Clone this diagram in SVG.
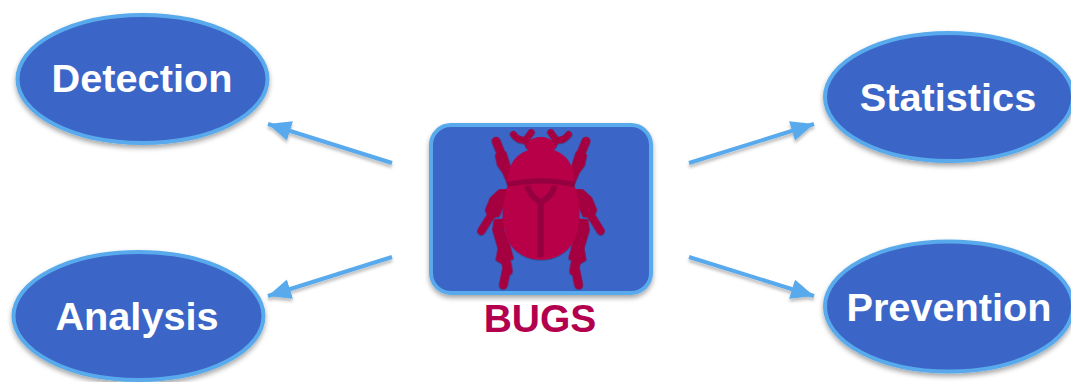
<svg xmlns="http://www.w3.org/2000/svg" width="1071" height="382" viewBox="0 0 1071 382">
<style>
.oval{fill:#3b66c7;stroke:#58aaec;stroke-width:4;filter:url(#sh)}
.lab{font-family:"Liberation Sans",Arial,sans-serif;font-weight:700;font-size:39.7px;fill:#fff;text-anchor:middle}
.conn{stroke:#58aaec;stroke-width:4;fill:none;marker-end:url(#arr);filter:url(#sh2)}
.leg{fill:#a5003f;stroke:#a5003f;stroke-width:6;stroke-linejoin:round}
.limb{fill:none;stroke:#a5003f;stroke-linecap:round;stroke-linejoin:round}
</style>
<defs>
<filter id="sh" x="-10%" y="-10%" width="120%" height="125%"><feDropShadow dx="0" dy="3" stdDeviation="2.5" flood-color="#000" flood-opacity=".35"/></filter>
<filter id="sh2" x="-10%" y="-30%" width="120%" height="170%"><feDropShadow dx="0" dy="3" stdDeviation="1.5" flood-color="#000" flood-opacity=".25"/></filter>
<marker id="arr" markerUnits="userSpaceOnUse" markerWidth="26" markerHeight="22" refX="23" refY="10" orient="auto"><path d="M0 0L23 10L0 20Z" fill="#58aaec"/></marker>
<g id="side">
<path class="limb" stroke-width="26" d="M228 78L246 122"/>
<path class="leg" d="M228 120L256 112L268 150L288 206L268 214L250 172L234 150Z"/>
<path class="limb" stroke-width="20" d="M280 58Q296 80 318 74L334 52M318 74L326 92"/>
<path class="limb" stroke-width="24" d="M214 300L184 348"/>
<path class="leg" d="M272 224L238 226L212 250L198 285L208 308L236 302L252 266L270 246Z"/>
<path class="leg" d="M262 312L224 316L220 345L236 400L230 434L246 444L278 430L266 385L248 342L264 332Z"/>
<path class="limb" stroke-width="28" d="M258 440L264 468"/>
<path class="limb" stroke-width="26" d="M262 450L250 510"/>
</g>
</defs>
<g id="connectors">
<line class="conn" x1="392" y1="163" x2="268" y2="124"/>
<line class="conn" x1="392" y1="257" x2="268" y2="296"/>
<line class="conn" x1="689" y1="163" x2="814" y2="124"/>
<line class="conn" x1="689" y1="257" x2="814" y2="296"/>
</g>
<g id="detection"><ellipse class="oval" cx="142.5" cy="79" rx="125" ry="64"/><text class="lab" x="142" y="92">Detection</text></g>
<g id="analysis"><ellipse class="oval" cx="138.5" cy="316" rx="125" ry="64"/><text class="lab" x="137" y="330">Analysis</text></g>
<g id="statistics"><ellipse class="oval" cx="949" cy="97" rx="124" ry="64"/><text class="lab" x="948" y="111">Statistics</text></g>
<g id="prevention"><ellipse class="oval" cx="949" cy="306.5" rx="124" ry="65"/><text class="lab" x="949" y="321">Prevention</text></g>
<g id="bugs">
<rect x="431" y="125" width="220" height="168" rx="20" fill="#3b66c7" stroke="#58aaec" stroke-width="4" filter="url(#sh)"/>
<g transform="translate(420 115) scale(.3333)" filter="url(#sh2)">
<use href="#side"/>
<use href="#side" transform="translate(726 0) scale(-1 1)"/>
<path fill="#b80048" d="M264 206C262 160 278 122 324 106C312 84 336 66 363 66C390 66 414 84 402 106C448 122 464 160 462 206Q363 184 264 206Z"/>
<path fill="#b80048" d="M262 214Q363 192 464 214C482 270 486 330 460 380C440 416 402 434 363 434C324 434 286 416 266 380C240 330 244 270 262 214Z"/>
<path fill="none" stroke="#95003f" stroke-width="16" d="M262 209Q363 186 464 209"/>
<path fill="none" stroke="#95003f" stroke-width="18" stroke-linejoin="round" d="M322 212Q330 245 362 262Q396 245 404 212M362 258V426"/>
</g>
<text x="540" y="332" font-family="'Liberation Sans',Arial,sans-serif" font-weight="700" font-size="39" fill="#b3004e" text-anchor="middle">BUGS</text>
</g>
</svg>
